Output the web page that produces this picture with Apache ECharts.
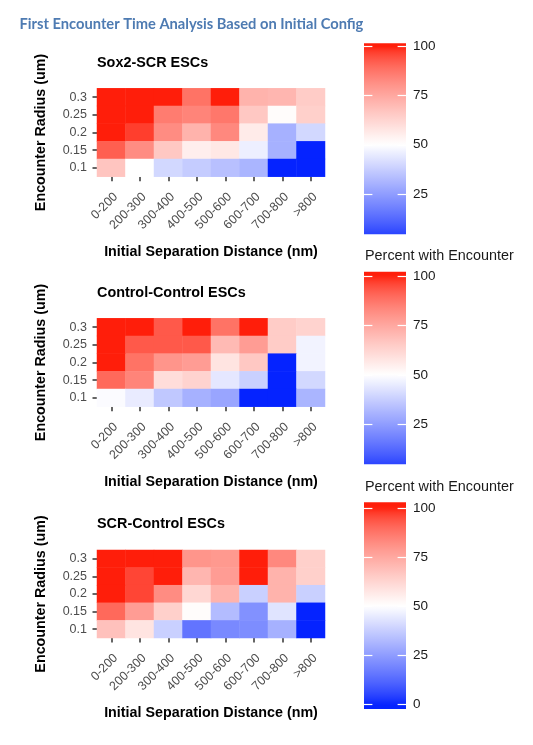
<!DOCTYPE html>
<html><head><meta charset="utf-8">
<script src="https://cdn.jsdelivr.net/npm/echarts@6/dist/echarts.min.js"></script>
<style>html,body{margin:0;padding:0;background:#fff}#c{width:533px;height:745px}</style>
</head><body><div id="c"></div>
<script>
// ---------- data ----------
const distances = ['0-200','200-300','300-400','400-500','500-600','600-700','700-800','>800'];
const radii = ['0.1','0.15','0.2','0.25','0.3']; // bottom -> top
const panelTitles = ['Sox2-SCR ESCs','Control-Control ESCs','SCR-Control ESCs'];
// rows listed top (0.3) to bottom (0.1), columns = distances
const sox2SCR = [
  [100, 100, 100, 88, 100, 72, 71, 65],
  [100, 100, 86, 84, 87, 66, 51, 64],
  [100, 97, 82, 72, 83, 56, 30, 40],
  [92, 82, 66, 55, 57, 46, 30, 0],
  [67, 50, 40, 37, 34, 31, 0, 0]
];
const controlControl = [
  [100, 100, 93, 100, 88, 100, 65, 63],
  [100, 93, 93, 93, 70, 78, 65, 47],
  [100, 88, 80, 78, 58, 66, 0, 47],
  [90, 84, 60, 63, 44, 38, 0, 40],
  [49, 45, 36, 30, 27, 0, 0, 31]
];
const scrControl = [
  [100, 100, 100, 80, 79, 100, 83, 64],
  [100, 96, 100, 71, 78, 100, 72, 64],
  [100, 96, 82, 62, 72, 38, 72, 38],
  [90, 78, 64, 51, 33, 22, 43, 0],
  [68, 58, 38, 15, 20, 21, 30, 0]
];
const panels = [sox2SCR, controlControl, scrControl];
const legendTitle = 'Percent with Encounter';
const colorbarTicks = [[25,50,75,100],[25,50,75,100],[0,25,50,75,100]];
const colorbarRanges = [[4.5,101.5],[4.7,102.2],[-2.5,102.8]];

// ---------- colour scale: RGB mix with white, lightness spaced evenly ----------
const LOW = [5,35,255], MID = [255,255,255], HIGH = [255,30,10];
function s2l(c){c/=255;return c<=0.04045?c/12.92:Math.pow((c+0.055)/1.055,2.4);}
function lightness(rgb){
  const Y=s2l(rgb[0])*0.2126+s2l(rgb[1])*0.7152+s2l(rgb[2])*0.0722;
  const f=Y>0.008856?Math.cbrt(Y):7.787*Y+16/116;
  return 116*f-16;
}
function mix(end,s){return MID.map((m,i)=>m+(end[i]-m)*s);}
function colorAt(v){
  v=Math.max(0,Math.min(100,v));
  const end=v<50?LOW:HIGH;
  const t=v<50?(50-v)/50:(v-50)/50;
  const target=100+(lightness(end)-100)*t;
  let a=0,b=1;
  for(let k=0;k<30;k++){
    const s=(a+b)/2;
    if(lightness(mix(end,s))>target) a=s; else b=s;
  }
  const c=mix(end,(a+b)/2).map(x=>Math.round(x));
  return 'rgb('+c.join(',')+')';
}
const scaleStops=[];
for(let v=0;v<=100;v+=2.5) scaleStops.push(colorAt(v));

// ---------- layout ----------
const FONT='Liberation Sans, Arial, sans-serif';
const heatGrids=[
  {left:97, top:88.3, width:228, height:88.4},
  {left:97, top:318.3, width:228, height:88.4},
  {left:97, top:550, width:228, height:88}
];
const barGrids=[
  {left:364, top:43.3, width:42, height:191},
  {left:364, top:271.7, width:42, height:192.6},
  {left:364, top:502.3, width:42, height:206.7}
];
const titleTops=[55.8,285.8,517.3];
const legendTitleTops=[null,249.3,479.8];

const grid=[...heatGrids,...barGrids];
const xAxis=[], yAxis=[], series=[];
const title=[{
  text:'First Encounter Time Analysis Based on Initial Config',
  left:19.5, top:16.5, padding:0,
  textStyle:{fontFamily:'Lato, sans-serif',fontWeight:'bold',fontSize:14.7,color:'#4e7bb2'}
}];

panels.forEach((rows,p)=>{
  xAxis.push({
    gridIndex:p, type:'category', data:distances,
    axisLine:{show:false},
    axisTick:{show:true,alignWithLabel:true,length:4.5,lineStyle:{color:'#333',width:1.5}},
    axisLabel:{rotate:45,fontSize:12.5,color:'#4d4d4d',margin:13.5,verticalAlign:'top',fontFamily:FONT},
    splitLine:{show:false},
    name:'Initial Separation Distance (nm)', nameLocation:'middle', nameGap:68,
    nameTextStyle:{fontSize:14.3,fontWeight:'bold',color:'#000',fontFamily:FONT}
  });
  yAxis.push({
    gridIndex:p, type:'category', data:radii,
    axisLine:{show:false},
    axisTick:{show:true,alignWithLabel:true,length:4.5,lineStyle:{color:'#333',width:1.5}},
    axisLabel:{fontSize:12.5,color:'#4d4d4d',margin:10,fontFamily:FONT},
    splitLine:{show:false},
    name:'Encounter Radius (um)', nameLocation:'middle', nameGap:49, nameRotate:90,
    nameTextStyle:{fontSize:14.3,fontWeight:'bold',color:'#000',fontFamily:FONT}
  });
  const data=[];
  rows.forEach((row,ri)=>{
    row.forEach((v,ci)=>{ data.push([ci, radii.length-1-ri, v]); });
  });
  series.push({
    type:'heatmap', xAxisIndex:p, yAxisIndex:p, data:data,
    itemStyle:{borderWidth:0}, emphasis:{disabled:true}, progressive:0
  });
  title.push({
    text:panelTitles[p], left:97, top:titleTops[p], padding:0,
    textStyle:{fontFamily:FONT,fontWeight:'bold',fontSize:14.4,color:'#000'}
  });
  if(legendTitleTops[p]!==null){
    title.push({
      text:legendTitle, left:365, top:legendTitleTops[p], padding:0,
      textStyle:{fontFamily:FONT,fontWeight:'normal',fontSize:14.4,color:'#1a1a1a'}
    });
  }
});

// colour bars
colorbarRanges.forEach((rng,k)=>{
  const gi=3+k;
  xAxis.push({gridIndex:gi,type:'value',min:0,max:1,show:false});
  yAxis.push({
    gridIndex:gi,type:'value',min:rng[0],max:rng[1],position:'right',
    axisLine:{show:false},axisTick:{show:false},splitLine:{show:false},
    axisLabel:{customValues:colorbarTicks[k],fontSize:13.5,color:'#1a1a1a',margin:7,fontFamily:FONT}
  });
  const ticks=colorbarTicks[k];
  series.push({
    type:'custom', xAxisIndex:gi, yAxisIndex:gi, silent:true,
    data:[[0,rng[0],rng[1]]],
    encode:{x:0,y:[1,2]},
    renderItem:(params,api)=>{
      const lo=api.value(1), hi=api.value(2);
      const tl=api.coord([0,hi]), br=api.coord([1,lo]);
      const stops=[];
      const N=60;
      for(let i=0;i<=N;i++){
        const v=hi-(hi-lo)*i/N;
        stops.push({offset:i/N,color:colorAt(v)});
      }
      const children=[{
        type:'rect',
        shape:{x:tl[0],y:tl[1],width:br[0]-tl[0],height:br[1]-tl[1]},
        style:{fill:new echarts.graphic.LinearGradient(0,0,0,1,stops)}
      }];
      const w=br[0]-tl[0], tw=w*0.2;
      ticks.forEach(t=>{
        const y=Math.round(api.coord([0,t])[1])+0.5;
        children.push({type:'line',shape:{x1:tl[0],y1:y,x2:tl[0]+tw,y2:y},style:{stroke:'#fff',lineWidth:1.2}});
        children.push({type:'line',shape:{x1:br[0]-tw,y1:y,x2:br[0],y2:y},style:{stroke:'#fff',lineWidth:1.2}});
      });
      return {type:'group',children:children};
    }
  });
});

const chart=echarts.init(document.getElementById('c'),null,{renderer:'canvas'});
chart.setOption({
  animation:false,
  backgroundColor:'#fff',
  title:title,
  grid:grid,
  xAxis:xAxis,
  yAxis:yAxis,
  visualMap:{
    type:'continuous', show:false, min:0, max:100, dimension:2,
    seriesIndex:[0,1,2], inRange:{color:scaleStops}
  },
  series:series
});
</script>
</body></html>
